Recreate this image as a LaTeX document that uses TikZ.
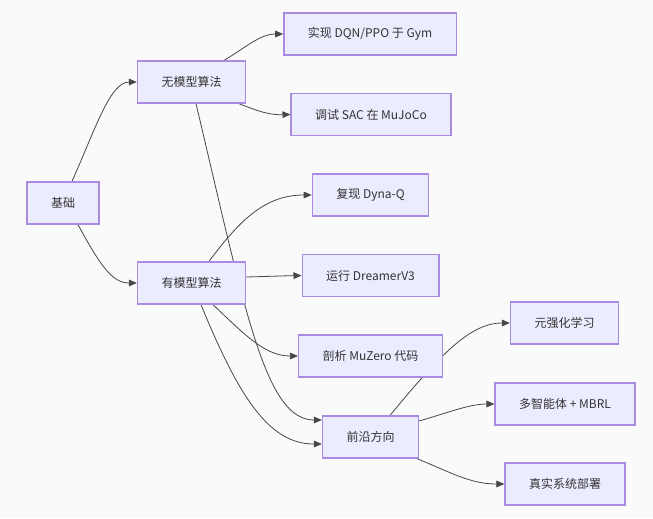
\documentclass[tikz,border=0pt]{standalone}
\usepackage{fontspec}
\setmainfont{Noto Sans CJK SC}
\usepackage{tikz}
\usetikzlibrary{arrows.meta,calc,backgrounds}
\definecolor{boxfill}{HTML}{ECECFF}
\definecolor{boxline}{HTML}{A98BE3}
\definecolor{edgecol}{HTML}{333333}
\definecolor{bgcol}{HTML}{FAFAFA}

\begin{document}
\begin{tikzpicture}[
    x=0.75pt,y=-0.75pt,
    box/.style={draw=boxline,line width=1pt,fill=boxfill,inner xsep=18pt,inner ysep=0pt,minimum height=31.5pt,text=edgecol,font=\fontsize{9pt}{11pt}\selectfont},
    link/.style={draw=edgecol!90,line width=0.6pt},
    >={Triangle[length=6pt,width=5pt]}
  ]
    \useasboundingbox (0,0) rectangle (653,518);
    \node[box] (base) at (63,203) {基础};
    \node[box] (mfree) at (191.5,82) {无模型算法};
    \node[box] (mbased) at (191.5,283) {有模型算法};
    \node[box] (dqn) at (370,34) {实现 DQN/PPO 于 Gym};
    \node[box] (sac) at (371,114.5) {调试 SAC 在 MuJoCo};
    \node[box] (dyna) at (370.5,195) {复现 Dyna-Q};
    \node[box] (dreamer) at (370.5,275.5) {运行 DreamerV3};
    \node[box] (muzero) at (370.5,356) {剖析 MuZero 代码};
    \node[box] (frontier) at (370.5,437) {前沿方向};
    \node[box] (meta) at (564.5,323) {元强化学习};
    \node[box] (marl) at (565,404) {多智能体 + MBRL};
    \node[box] (deploy) at (565,484) {真实系统部署};
    \begin{scope}[on background layer]
      \fill[bgcol] (0,0) rectangle (653,518);
      \draw[link,->] ($(base.north)+(9,0)$) .. controls (95,130) and (110,82) .. (mfree.west);
      \draw[link,->] ($(base.south)+(15,0)$) .. controls (100,265) and (112,283) .. (mbased.west);
      \draw[link,->] ($(mfree.north)+(32.5,0)$) .. controls (245,48) and (260,34) .. (dqn.west);
      \draw[link,->] ($(mfree.south)+(47.5,0)$) .. controls (260,112) and (270,115) .. (sac.west);
      \draw[link,->] ($(mfree.south)+(4.5,0)$) .. controls (245,310) and (265,420) .. ($(frontier.west)+(0,-17)$);
      \draw[link,->] ($(mbased.north)+(17.5,0)$) .. controls (240,220) and (265,195) .. (dyna.west);
      \draw[link,->] ($(mbased.east)+(0,-6)$) .. controls (270,276) .. (dreamer.west);
      \draw[link,->] ($(mbased.south)+(21.5,0)$) .. controls (245,335) and (265,356) .. (muzero.west);
      \draw[link,->] ($(mbased.south)+(9.5,0)$) .. controls (240,400) and (270,444) .. ($(frontier.west)+(0,7)$);
      \draw[link,->] ($(frontier.north)+(19.5,0)$) .. controls (440,355) and (470,323) .. (meta.west);
      \draw[link,->] ($(frontier.east)+(0,-16)$) .. controls (450,412) and (470,404) .. (marl.west);
      \draw[link,->] ($(frontier.south)+(46.5,0)$) .. controls (450,472) and (470,484) .. (deploy.west);
    \end{scope}
  \end{tikzpicture}
\end{document}
